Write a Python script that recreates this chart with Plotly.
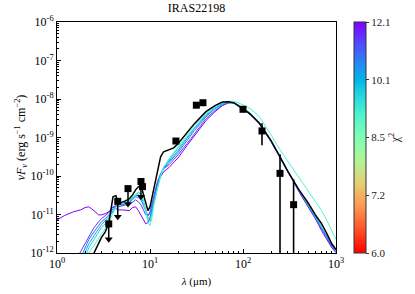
import numpy as np
import plotly.graph_objects as go
from plotly.colors import sample_colorscale

# ---------------- data ----------------
title = "IRAS22198"

# photometry (micron, erg s^-1 cm^-2)
obs_wave = [3.6, 4.5, 5.8, 8.0, 8.3, 19.0, 31.5, 37.1, 100.0, 160.0, 250.0, 350.0]
obs_flux = [5.7e-12, 2.2e-11, 4.7e-11, 7.2e-11, 5.3e-11, 8.1e-10, 6.9e-9, 8.0e-9,
            5.4e-9, 1.48e-9, 1.17e-10, 1.8e-11]
obs_err = [0, 0, 0, 0, 0, 0, 0, 0, 0, 0.85e-9, 2.5e-10, 6.4e-11]
obs_uplim = [True, True, True, True, False, False, False, False, False, False, False, False]

# model wavelength grid (micron)
wave = [1.0, 1.2, 1.5, 1.8, 2.0, 2.2, 2.5, 2.8, 3.0, 3.3, 3.6, 4.0, 4.3, 4.6, 5.0, 5.5,
        6.0, 6.5, 7.0, 7.5, 8.0, 8.5, 9.0, 9.5, 10, 10.5, 11, 12, 13, 14, 16, 18, 20,
        25, 30, 40, 50, 60, 70, 80, 100, 120, 150, 200, 250, 300, 400, 500, 600, 700,
        800, 900, 1000]

# log10(nuFnu) of best fit model (black)
best_log = [None, None, None, None, None, -12.28, -11.99, -11.73, -11.60, -11.45, -11.24,
            -10.54, -10.51, -10.72, -10.69, -10.64, -10.59, -10.49, -10.36, -10.28, -10.25,
            -10.46, -10.72, -10.90, -10.80, -10.56, -10.30, -9.84, -9.50, -9.37, -9.32,
            -9.27, -9.16, -8.88, -8.64, -8.33, -8.17, -8.08, -8.07, -8.10, -8.25, -8.39,
            -8.63, -9.08, -9.50, -9.86, -10.36, -10.69, -11.01, -11.24, -11.50, -11.76, -11.91]

# other models: chi^2 and log10(nuFnu)
model_chi2 = [12.1, 11.5, 10.9, 10.2, 9.7, 9.1]
model_logs = [
    # 12.1 (purple)
    [-11.14, -11.03, -10.93, -10.88, -10.82, -10.80, -10.90, -11.01, -11.01, -10.98, -10.93,
     -10.80, -10.85, -10.88, -10.88, -10.90, -10.90, -10.82, -10.80, -10.90, -11.03,
     -11.16, -11.24, -11.21, -11.08, -10.88, -10.62, -10.23, -10.02, -9.89, -9.78,
     -9.65, -9.53, -9.21, -8.95, -8.56, -8.33, -8.17, -8.10, -8.10, -8.23, -8.41,
     -8.64, -9.11, -9.53, -9.89, -10.41, -10.80, -11.11, -11.42, -11.65, -11.86, -11.99],
    # 11.5
    [None, None, -12.30, -11.96, -11.73, -11.55, -11.34, -11.19, -11.11, -11.03, -10.95,
     -10.80, -10.77, -10.80, -10.77, -10.75, -10.75, -10.67, -10.62, -10.67, -10.75,
     -10.88, -11.01, -11.03, -10.93, -10.72, -10.51, -10.15, -9.94, -9.81, -9.71,
     -9.58, -9.45, -9.16, -8.90, -8.51, -8.30, -8.16, -8.10, -8.10, -8.23, -8.38,
     -8.62, -9.08, -9.50, -9.86, -10.38, -10.77, -11.08, -11.37, -11.60, -11.84, -11.97],
    # 10.9
    [None, None, None, -12.12, -11.86, -11.65, -11.45, -11.29, -11.19, -11.11, -11.01,
     -10.85, -10.77, -10.75, -10.75, -10.72, -10.69, -10.62, -10.54, -10.56, -10.62,
     -10.77, -10.93, -11.03, -10.98, -10.77, -10.56, -10.20, -9.97, -9.81, -9.65,
     -9.52, -9.39, -9.08, -8.82, -8.46, -8.25, -8.14, -8.08, -8.10, -8.23, -8.38,
     -8.62, -9.08, -9.50, -9.86, -10.38, -10.77, -11.08, -11.34, -11.60, -11.81, -11.97],
    # 10.2
    [None, None, None, -12.23, -11.99, -11.76, -11.55, -11.37, -11.27, -11.16, -11.06,
     -10.90, -10.80, -10.75, -10.72, -10.69, -10.67, -10.59, -10.51, -10.49, -10.54,
     -10.69, -10.90, -11.08, -11.11, -10.90, -10.64, -10.25, -9.97, -9.78, -9.60,
     -9.47, -9.34, -9.03, -8.77, -8.43, -8.24, -8.12, -8.08, -8.10, -8.23, -8.38,
     -8.62, -9.08, -9.50, -9.86, -10.36, -10.75, -11.06, -11.32, -11.58, -11.78, -11.94],
    # 9.7
    [None, None, None, None, -12.12, -11.86, -11.65, -11.47, -11.34, -11.24, -11.11,
     -10.93, -10.80, -10.75, -10.72, -10.67, -10.64, -10.56, -10.49, -10.43, -10.49,
     -10.64, -10.88, -11.11, -11.19, -10.98, -10.69, -10.28, -9.99, -9.78, -9.58,
     -9.42, -9.29, -8.98, -8.75, -8.41, -8.23, -8.12, -8.08, -8.10, -8.23, -8.38,
     -8.62, -9.08, -9.50, -9.86, -10.36, -10.75, -11.06, -11.32, -11.55, -11.78, -11.94],
    # 9.1 (turquoise)
    [None, None, None, None, -12.23, -11.99, -11.81, -11.60, -11.50, -11.37, -11.19,
     -10.95, -10.82, -10.75, -10.72, -10.67, -10.62, -10.54, -10.46, -10.41, -10.46,
     -10.64, -10.93, -11.19, -11.29, -11.08, -10.77, -10.33, -10.02, -9.78, -9.55,
     -9.39, -9.24, -8.93, -8.69, -8.38, -8.20, -8.10, -8.06, -8.06, -8.15, -8.25,
     -8.46, -8.93, -9.32, -9.60, -10.04, -10.38, -10.67, -10.90, -11.16, -11.40, -11.65],
]

cbar_ticks = [6.0, 7.2, 8.5, 10.1, 12.1]
x_ticks = [1, 10, 100, 1000]
y_ticks = [1e-12, 1e-11, 1e-10, 1e-9, 1e-8, 1e-7, 1e-6]

# ---------------- style ----------------
FONT = "Liberation Serif"
ARROW_FACTOR = 2.5  # length of upper-limit arrows (multiplicative, log axis)
rainbow_r = [
    [0.0, "rgb(255,0,0)"], [0.1, "rgb(255,79,40)"], [0.2, "rgb(255,150,79)"],
    [0.3, "rgb(230,206,116)"], [0.4, "rgb(179,243,150)"], [0.5, "rgb(128,255,180)"],
    [0.6, "rgb(77,243,206)"], [0.7, "rgb(26,206,227)"], [0.75, "rgb(0,180,236)"],
    [0.8, "rgb(26,150,243)"], [0.9, "rgb(77,79,252)"], [1.0, "rgb(128,0,255)"],
]
cbar_pos = [0.0, 0.25, 0.5, 0.75, 1.0]

def to_flux(lst):
    return [None if v is None else 10 ** v for v in lst]

fig = go.Figure()

for chi2, logs in zip(model_chi2, model_logs):
    t = float(np.interp(chi2, cbar_ticks, cbar_pos))
    col = sample_colorscale(rainbow_r, [t])[0]
    fig.add_trace(go.Scatter(x=wave, y=to_flux(logs), mode="lines",
                             line=dict(color=col, width=1), hoverinfo="skip",
                             showlegend=False))

fig.add_trace(go.Scatter(x=wave, y=to_flux(best_log), mode="lines",
                         line=dict(color="black", width=1.5), showlegend=False))

# error bars
ex, ey = [], []
for w, f, e in zip(obs_wave, obs_flux, obs_err):
    if e > 0:
        lo = f - e if f - e > 0 else 1e-14
        ex += [w, w, None]
        ey += [lo, f + e, None]
fig.add_trace(go.Scatter(x=ex, y=ey, mode="lines", line=dict(color="black", width=1.6),
                         showlegend=False, hoverinfo="skip"))

# upper limit arrows
ax_, ay_, tx, ty = [], [], [], []
for w, f, u in zip(obs_wave, obs_flux, obs_uplim):
    if u:
        ax_ += [w, w, None]
        ay_ += [f, f / ARROW_FACTOR, None]
        tx.append(w)
        ty.append(f / ARROW_FACTOR)
fig.add_trace(go.Scatter(x=ax_, y=ay_, mode="lines", line=dict(color="black", width=1.5),
                         showlegend=False, hoverinfo="skip"))
fig.add_trace(go.Scatter(x=tx, y=ty, mode="markers",
                         marker=dict(symbol="triangle-down", size=7, color="black"),
                         showlegend=False, hoverinfo="skip"))

fig.add_trace(go.Scatter(x=obs_wave, y=obs_flux, mode="markers",
                         marker=dict(symbol="square", size=7, color="black"),
                         showlegend=False))

# colorbar holder
fig.add_trace(go.Scatter(
    x=[10], y=[1e-20], mode="markers", hoverinfo="skip", showlegend=False,
    marker=dict(size=1, color=[0.5],
                colorscale=rainbow_r, cmin=0, cmax=1, showscale=True,
                colorbar=dict(thickness=12, len=1.0, lenmode="fraction", x=1.064,
                              xanchor="left", y=0.5, yanchor="middle", xpad=0, ypad=0,
                              outlinewidth=1, outlinecolor="#333",
                              tickmode="array", tickvals=cbar_pos,
                              ticktext=[f"{c:.1f}" for c in cbar_ticks],
                              ticks="outside", ticklen=3, tickcolor="#333",
                              tickfont=dict(family=FONT, size=11, color="#222"),
                              title=dict(text="χ<sup>2</sup>", side="right",
                                         font=dict(family=FONT, size=12, color="#222"))))))

axis_common = dict(showline=True, linecolor="black", linewidth=1, mirror=True,
                   ticks="inside", ticklen=4, tickcolor="black", showgrid=False,
                   zeroline=False, tickfont=dict(family=FONT, size=12, color="black"),
                   minor=dict(ticks="inside", ticklen=2, tickcolor="black", dtick="D1",
                              showgrid=False))

fig.update_xaxes(type="log", range=[0, 3], tickmode="array", tickvals=x_ticks,
                 ticktext=[f"10<sup>{int(np.log10(v))}</sup>" for v in x_ticks],
                 title=dict(text="<i>λ</i> (μm)", font=dict(family=FONT, size=11, color="black"),
                            standoff=6),
                 **axis_common)
fig.update_yaxes(type="log", range=[-12, -6], tickmode="array", tickvals=y_ticks,
                 ticktext=[f"10<sup>{int(round(np.log10(v)))}</sup>" for v in y_ticks],
                 title=dict(text="<i>νF<sub>ν</sub></i> (erg s<sup>−1</sup> cm<sup>−2</sup>)",
                            font=dict(family=FONT, size=12, color="black"), standoff=2),
                 **axis_common)

fig.update_layout(
    width=415, height=294,
    margin=dict(l=57, r=79, t=22, b=41, autoexpand=False),
    paper_bgcolor="white", plot_bgcolor="white",
    title=dict(text=title, x=0.5, xref="paper", xanchor="center", y=1, yref="container",
               yanchor="top", pad=dict(t=4), font=dict(family=FONT, size=12, color="black")),
    showlegend=False,
)

fig.write_html("out.html", config={"displayModeBar": False},
               post_script="document.body.style.margin='0px';")
